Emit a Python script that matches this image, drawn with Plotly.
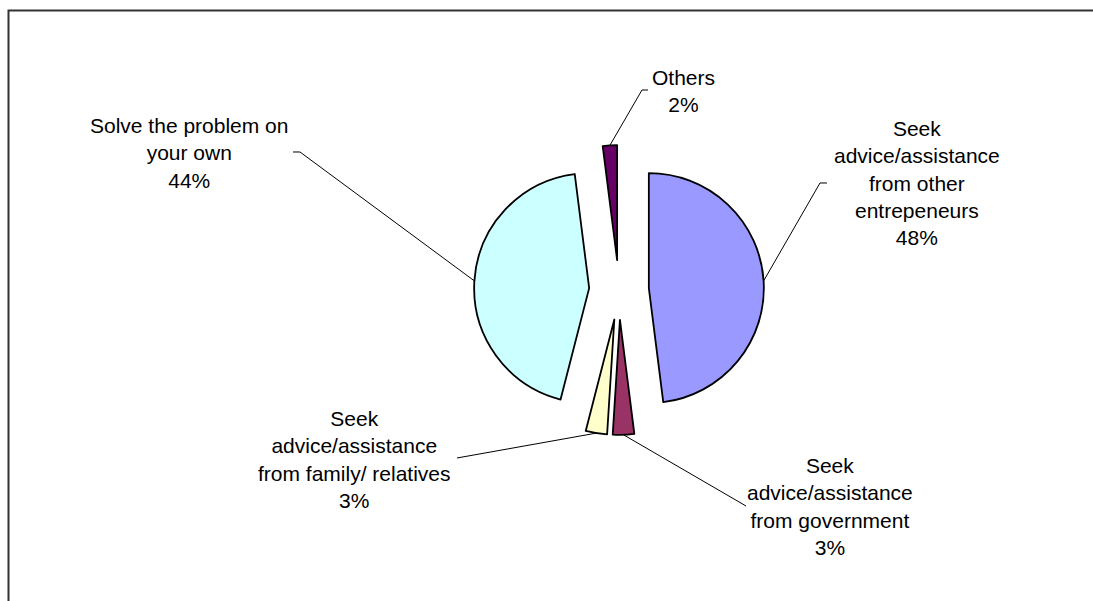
import math
import plotly.graph_objects as go

# Survey answers: how entrepreneurs deal with a business problem
categories = [
    "Seek advice/assistance from other entrepeneurs",
    "Seek advice/assistance from government",
    "Seek advice/assistance from family/ relatives",
    "Solve the problem on your own",
    "Others",
]
shares = [48, 3, 3, 44, 2]
label_lines = [
    ["Seek", "advice/assistance", "from other", "entrepeneurs"],
    ["Seek", "advice/assistance", "from government"],
    ["Seek", "advice/assistance", "from family/ relatives"],
    ["Solve the problem on", "your own"],
    ["Others"],
]
colors = ["#9999FF", "#993366", "#FFFFCC", "#CCFFFF", "#660066"]

# ---- layout geometry (pixels) ----
W, H = 1093, 601
CX, CY = 619, 290          # pie centre
R = 115                    # pie radius
PULL = 0.26                # explode distance as a fraction of the radius

# label block centres and leader-line ends on the label side
label_xy = [(917, 183), (830, 506), (354, 459), (189, 153), (683, 91)]
leader_ends = [
    [(820, 183), (827, 183)],
    [(746, 506)],
    [(457, 458)],
    [(300, 152), (293, 152)],
    [(642, 90), (648, 90)],
]

half = R * (1 + PULL)
fig = go.Figure(
    go.Pie(
        labels=categories,
        values=shares,
        sort=False,
        direction="clockwise",
        rotation=0,
        pull=[PULL] * len(shares),
        marker=dict(colors=colors, line=dict(color="#000000", width=1.8)),
        textinfo="none",
        hoverinfo="label+percent",
        showlegend=False,
        domain=dict(
            x=[(CX - half) / W, (CX + half) / W],
            y=[1 - (CY + half) / H, 1 - (CY - half) / H],
        ),
    )
)


def px(x, y):
    return x / W, 1 - y / H


total = sum(shares)
shapes = []
annotations = []
start = 0.0
for i, v in enumerate(shares):
    frac = v / total
    mid = 2 * math.pi * (start + frac / 2)   # clockwise from 12 o'clock
    start += frac
    sx, sy = math.sin(mid), -math.cos(mid)
    ox, oy = CX + sx * R * PULL, CY + sy * R * PULL
    ax, ay = ox + sx * R, oy + sy * R
    pts = [(ax, ay)] + leader_ends[i]
    path = "M " + " L ".join(
        "{:.5f},{:.5f}".format(*px(x, y)) for x, y in pts
    )
    shapes.append(dict(type="path", xref="paper", yref="paper", path=path,
                       line=dict(color="#000000", width=1)))
    lx, ly = px(*label_xy[i])
    text = "<br>".join(label_lines[i] + ["{:d}%".format(round(100 * frac))])
    annotations.append(dict(
        x=lx, y=ly, xref="paper", yref="paper", text=text,
        showarrow=False, xanchor="center", yanchor="middle", align="center",
        font=dict(family="Liberation Sans, Arial, sans-serif", size=21,
                  color="#000000"),
    ))

# chart frame
shapes.append(dict(type="rect", xref="paper", yref="paper",
                   x0=8.5 / W, x1=1.02, y0=-0.02, y1=1 - 10.5 / H,
                   line=dict(color="#333333", width=2), fillcolor="rgba(0,0,0,0)"))

fig.update_layout(
    width=W, height=H,
    margin=dict(l=0, r=0, t=0, b=0),
    paper_bgcolor="#FFFFFF",
    plot_bgcolor="#FFFFFF",
    shapes=shapes,
    annotations=annotations,
)

fig.write_html("out.html")
